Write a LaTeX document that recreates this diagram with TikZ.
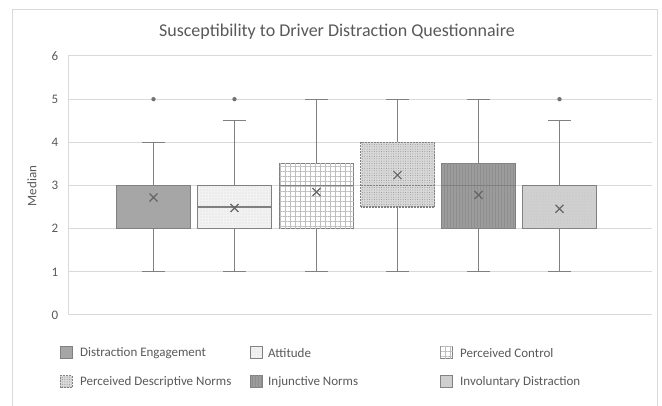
\documentclass[tikz,border=0pt]{standalone}
\usepackage{fontspec}
\setmainfont{Carlito}
\usetikzlibrary{patterns.meta}
\definecolor{txt}{HTML}{595959}
\definecolor{gridc}{HTML}{D9D9D9}
\definecolor{edge}{HTML}{808080}
\definecolor{fillA}{HTML}{A6A6A6}
\definecolor{fillB}{HTML}{F2F2F2}
\definecolor{fillD}{HTML}{D9D9D9}
\definecolor{fillE}{HTML}{9C9C9C}
\definecolor{fillF}{HTML}{D0D0D0}
\definecolor{patE}{HTML}{8E8E8E}
\tikzset{
  whisk/.style={draw=edge, line width=1.2pt},
  bx/.style={draw=edge, line width=1.2pt},
  boxA/.style={bx, fill=fillA},
  boxB/.style={bx, fill=fillB,
    postaction={pattern={Dots[distance=3pt,radius=0.45pt]}, pattern color=black!30}},
  boxC/.style={bx, fill=white,
    postaction={pattern={Hatch[angle=0,distance=5pt,line width=0.4pt]}, pattern color=black!25}},
  boxD/.style={bx, dash pattern=on 2pt off 1pt, fill=fillD,
    postaction={pattern={Dots[distance=2.4pt,radius=0.5pt]}, pattern color=black!42}},
  boxE/.style={bx, fill=fillE,
    postaction={pattern={Lines[angle=90,distance=3pt,line width=0.3pt]}, pattern color=patE}},
  boxF/.style={bx, fill=fillF,
    postaction={pattern={Dots[distance=3pt,radius=0.45pt]}, pattern color=black!30}},
  medA/.style={bx}, medB/.style={bx}, medC/.style={bx}, medE/.style={bx}, medF/.style={bx},
  medD/.style={bx, dash pattern=on 2pt off 1pt},
  meanc/.style={draw=black!60, line width=1.2pt},
  lbl/.style={text=txt, font=\fontsize{13}{15}\selectfont, inner sep=0pt},
}
\newcommand\mybox[8]{%
  \draw[whisk] (#1,#6) -- (#1,#2);
  \draw[whisk] (#1,#3) -- (#1,#7);
  \draw[whisk] (#1-11.5,#6) -- (#1+11.5,#6);
  \draw[whisk] (#1-11.5,#7) -- (#1+11.5,#7);
  \draw[box#8] (#1-37,#2) rectangle (#1+37,#3);
  \draw[med#8] (#1-37,#4) -- (#1+37,#4);
  \draw[meanc] (#1,#5) ++(-4pt,-4pt) -- ++(8pt,8pt) ++(-8pt,0pt) -- ++(8pt,-8pt);
}
\begin{document}
\begin{tikzpicture}[x=1pt,y=1pt]
\useasboundingbox (0,0) rectangle (662,406);
\fill[white] (0,0) rectangle (662,406);
% outer frame
\draw[gridc, line width=1pt] (12,-5) -- (12,396) -- (657,396) -- (657,-5);
% title
\node[text=txt, font=\fontsize{18}{20}\selectfont, inner sep=0pt] (title) at (337,374) {Susceptibility to Driver Distraction Questionnaire};
% axis title
\node[lbl, rotate=90] (ytitle) at (32,220) {Median};
\begin{scope}[shift={(0,91)}, y=43.17pt]
  \foreach \v in {0,...,6} {
    \draw[gridc, line width=1pt] (68,\v) -- (652,\v);
    \node[lbl] (t\v) at (55,\v) {\v};
  }
  \draw[gridc, line width=1pt] (68,0) -- (68,6);
  % boxes: x, q1, q3, median, mean, wlo, whi, style
  \mybox{153.5}{2}{3}{3}{2.72}{1}{4}{A}
  \mybox{234.5}{2}{3}{2.5}{2.48}{1}{4.5}{B}
  \mybox{316.5}{2}{3.5}{3}{2.85}{1}{5}{C}
  \mybox{397.5}{2.5}{4}{3}{3.24}{1}{5}{D}
  \mybox{478.5}{2}{3.5}{3}{2.78}{1}{5}{E}
  \mybox{559.5}{2}{3}{3}{2.46}{1}{4.5}{F}
  % outliers
  \fill[black!55] (153.5,5) circle (2.2pt);
  \fill[black!55] (234.5,5) circle (2.2pt);
  \fill[black!55] (559.5,5) circle (2.2pt);
\end{scope}
% legend
\draw[boxA, line width=1pt] (60,47) rectangle (72,59);
\node[lbl, anchor=west] (l1) at (80,53) {Distraction Engagement};
\draw[boxB, line width=1pt] (250,47) rectangle (262,59);
\node[lbl, anchor=west] (l2) at (268,53) {Attitude};
\draw[boxC, line width=1pt] (440.5,47) rectangle (452.5,59);
\node[lbl, anchor=west] (l3) at (460,53) {Perceived Control};
\draw[boxD, line width=1pt] (60,18) rectangle (72,30);
\node[lbl, anchor=west] (l4) at (80,24) {Perceived Descriptive Norms};
\draw[boxE, line width=1pt] (250,18) rectangle (262,30);
\node[lbl, anchor=west] (l5) at (268,24) {Injunctive Norms};
\draw[boxF, line width=1pt] (440.5,18) rectangle (452.5,30);
\node[lbl, anchor=west] (l6) at (460,24) {Involuntary Distraction};
\end{tikzpicture}
\end{document}
